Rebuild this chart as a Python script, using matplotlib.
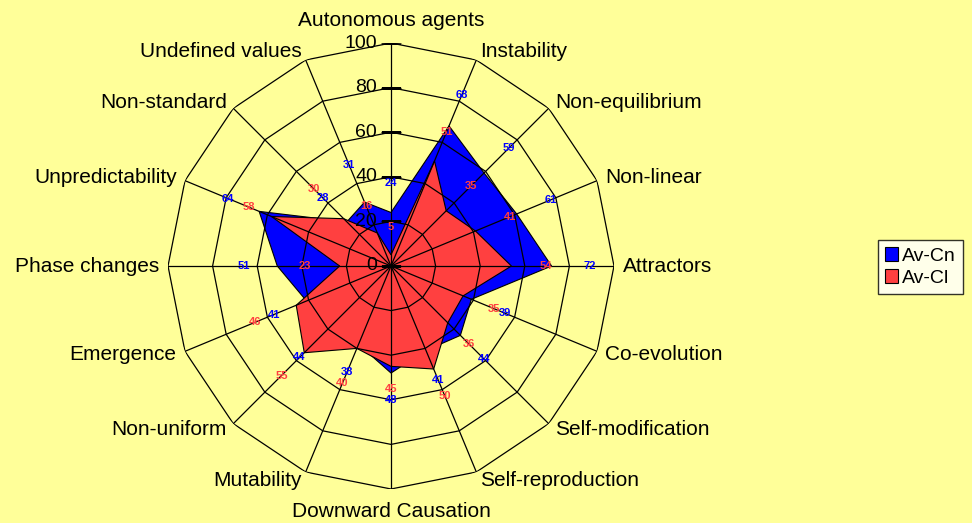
import numpy as np
import matplotlib
matplotlib.use('Agg')
import matplotlib.pyplot as plt

categories = ['Autonomous agents', 'Instability', 'Non-equilibrium', 'Non-linear',
              'Attractors', 'Co-evolution', 'Self-modification', 'Self-reproduction',
              'Downward Causation', 'Mutability', 'Non-uniform', 'Emergence',
              'Phase changes', 'Unpredictability', 'Non-standard', 'Undefined values']
av_cn = [24, 68, 59, 61, 72, 39, 44, 41, 48, 38, 44, 41, 51, 64, 28, 31]
av_cl = [5, 51, 35, 41, 54, 35, 36, 50, 45, 40, 55, 46, 23, 58, 30, 16]
r_ticks = [0, 20, 40, 60, 80, 100]

# how far (in axis units) each value label sits outside its point
cn_label_pad = [13, 15, 16, 16.5, 17, 16.5, 15, 14.5, 12, 13.5, 14, 16, 15, 15, 15, 18]
cl_label_pad = [12.5, 14, 16, 17, 15.5, 15, 13.5, 13, 10, 17, 14.5, 20, 15.5, 11, 19, 13]

plt.rcParams['font.family'] = ['Liberation Sans', 'DejaVu Sans']
bg = '#FFFF99'
blue = '#0000FF'
red = '#FF4040'

fig = plt.figure(figsize=(9.72, 5.23), dpi=100, facecolor=bg)
ax = fig.add_axes([168 / 972, 34 / 523, 446 / 972, 446 / 523], projection='polar')
ax.set_facecolor(bg)
ax.set_theta_zero_location('N')
ax.set_theta_direction(-1)
ax.set_ylim(0, 100)
ax.grid(False)
ax.spines['polar'].set_visible(False)
ax.set_xticks([])
ax.set_yticks([])

n = len(categories)
theta = np.linspace(0, 2 * np.pi, n, endpoint=False)
closed = np.append(theta, theta[0])

# series
cn = np.append(av_cn, av_cn[0])
cl = np.append(av_cl, av_cl[0])
ax.fill(closed, cn, color=blue, zorder=2, label='Av-Cn', ec='black', lw=0.8)
ax.fill(closed, cl, color=red, zorder=3, label='Av-Cl', ec='black', lw=0.8)

# polygon grid and spokes on top
for t in theta:
    ax.plot([t, t], [0, 100], color='black', lw=0.9, zorder=4)
for r in r_ticks[1:]:
    ax.plot(closed, [r] * (n + 1), color='black', lw=0.9, zorder=4)

# radial tick marks and labels
ax.plot([0] * len(r_ticks), r_ticks, ls='none', marker='_', ms=14, mew=1,
        color='black', zorder=5)
for r in r_ticks:
    ax.annotate(str(r), xy=(0, r), xytext=(-10, 0), textcoords='offset points',
                ha='right', va='center', fontsize=14, zorder=6)

# data labels
for t, v, p in zip(theta, av_cn, cn_label_pad):
    ax.text(t, v + p, str(v), color=blue, fontsize=8, fontweight='bold',
            ha='center', va='center', zorder=6)
for t, v, p in zip(theta, av_cl, cl_label_pad):
    ax.text(t, v + p, str(v), color=red, fontsize=8, fontweight='bold',
            ha='center', va='center', zorder=6)

# category labels
for t, name in zip(theta, categories):
    s, c = np.sin(t), np.cos(t)
    if abs(s) < 0.1:
        ha, va, r = 'center', ('bottom' if c > 0 else 'top'), 106
    else:
        ha, va, r = ('left' if s > 0 else 'right'), 'center', 104
    ax.text(t, r, name, ha=ha, va=va, fontsize=15, clip_on=False)

leg = fig.legend(loc='center left', bbox_to_anchor=(878 / 972, 1 - 267 / 523),
                 frameon=True, fancybox=False, edgecolor='black', facecolor='white',
                 fontsize=14, handlelength=0.7, handleheight=0.7, handletextpad=0.2,
                 borderpad=0.35, labelspacing=0.25, borderaxespad=0)
leg.get_frame().set_linewidth(1)

fig.savefig('out.png', dpi=100, facecolor=bg)
